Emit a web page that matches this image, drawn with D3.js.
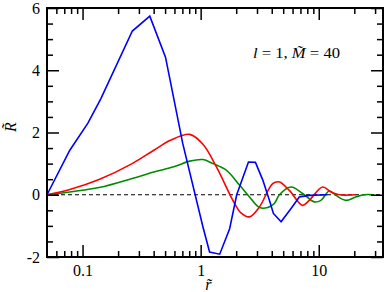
<!DOCTYPE html>
<html>
<head>
<meta charset="utf-8">
<script src="https://cdn.jsdelivr.net/npm/d3@7"></script>
<style>
  body { margin: 0; background: #fff; }
</style>
</head>
<body>
<div id="chart"></div>
<script>
// radial coordinate r~ and amplitude R~
const blueR = [0.05, 0.078, 0.111, 0.143, 0.264, 0.371, 0.504, 0.705, 1.045, 1.19, 1.45, 1.76, 2.02, 2.54, 2.91, 3.36, 3.82, 4.13, 4.8, 5.83, 6.84, 8.3, 11.8];
const blueV = [0, 1.43, 2.30, 3.09, 5.26, 5.74, 4.42, 1.65, -1.03, -1.84, -1.91, -1.09, 0, 1.05, 1.04, 0.47, -0.18, -0.60, -0.87, -0.44, -0.07, -0.02, 0];

const redR = [0.05, 0.078, 0.138, 0.263, 0.401, 0.555, 0.808, 1.046, 1.357, 1.936, 2.206, 2.592, 3.147, 4.075, 4.642, 5.638, 7.3, 8.315, 10.77, 12.68, 14.89, 20.6];
const redV = [0, 0.17, 0.49, 1.0, 1.43, 1.75, 1.94, 1.62, 0.9, -0.28, -0.59, -0.71, -0.39, 0.36, 0.41, 0.14, -0.34, -0.18, 0.25, 0.09, 0, 0];

const greenR = [0.05, 0.138, 0.263, 0.401, 0.592, 0.808, 1.046, 1.27, 1.648, 2.133, 2.592, 3.147, 3.698, 4.211, 4.642, 5.827, 7.3, 9.163, 10.44, 12.27, 13.97, 16.96, 20.6, 24.2, 29.4];
const greenV = [0, 0.23, 0.52, 0.73, 0.9, 1.08, 1.13, 1.0, 0.79, 0.31, -0.07, -0.41, -0.41, -0.28, 0, 0.25, 0.04, -0.23, -0.18, 0.12, -0.02, -0.18, -0.07, 0, 0];

const xMajor = [0.1, 1, 10];
const xMinor = [0.06, 0.07, 0.08, 0.09, 0.2, 0.3, 0.4, 0.5, 0.6, 0.7, 0.8, 0.9, 2, 3, 4, 5, 6, 7, 8, 9, 20, 30];
const yMajor = [-2, 0, 2, 4, 6];
const yMinor = [-1.5, -1, -0.5, 0.5, 1, 1.5, 2.5, 3, 3.5, 4.5, 5, 5.5];

const FONT = "Liberation Serif";

const margin = {top: 8, right: 9, bottom: 35, left: 47},
      width = 392 - margin.left - margin.right,
      height = 292 - margin.top - margin.bottom;

const svg = d3.select("#chart")
  .append("svg")
  .attr("width", 392)
  .attr("height", 292)
  .attr("font-family", FONT)
  .append("g")
  .attr("transform", `translate(${margin.left},${margin.top})`);

const x = d3.scaleLog().domain([0.05, 35]).range([0, width]);
const y = d3.scaleLinear().domain([-2, 6]).range([height, 0]);

// zero line
svg.append("line")
  .attr("x1", 0).attr("x2", width)
  .attr("y1", y(0)).attr("y2", y(0))
  .attr("stroke", "black")
  .attr("stroke-width", 1.2)
  .attr("stroke-dasharray", "4,3");

const series = [
  {r: greenR, v: greenV, color: "#008b00", curve: d3.curveCatmullRom},
  {r: redR, v: redV, color: "#ff0000", curve: d3.curveCatmullRom},
  {r: blueR, v: blueV, color: "#0000ff", curve: d3.curveLinear}
];

series.forEach(s => {
  const pts = s.r.map((r, i) => [r, s.v[i]]);
  svg.append("path")
    .datum(pts)
    .attr("fill", "none")
    .attr("stroke", s.color)
    .attr("stroke-width", 1.6)
    .attr("d", d3.line().curve(s.curve).x(d => x(d[0])).y(d => y(d[1])));
});

// axes: ticks point inward on all four sides
function ax(gen, scale, vals, size, fmt, pad, tr) {
  const g = svg.append("g")
    .attr("transform", tr)
    .call(gen(scale).tickValues(vals).tickSize(size).tickPadding(pad).tickFormat(fmt));
  g.attr("font-family", FONT).attr("font-size", 16);
  g.select(".domain").remove();
  g.selectAll("line").attr("stroke", "black").attr("stroke-width", 1.5);
  g.selectAll("text").attr("fill", "black");
  return g;
}

ax(d3.axisBottom, x, xMajor, -12, d => d3.format("~g")(d), 8, `translate(0,${height})`);
ax(d3.axisBottom, x, xMinor, -6, "", 8, `translate(0,${height})`);
ax(d3.axisTop, x, xMajor, -12, "", 8, "translate(0,0)");
ax(d3.axisTop, x, xMinor, -6, "", 8, "translate(0,0)");
ax(d3.axisLeft, y, yMajor, -12, d => d, 7, "translate(0,0)");
ax(d3.axisLeft, y, yMinor, -6, "", 7, "translate(0,0)");
ax(d3.axisRight, y, yMajor, -12, "", 7, `translate(${width},0)`);
ax(d3.axisRight, y, yMinor, -6, "", 7, `translate(${width},0)`);

// frame
svg.append("rect")
  .attr("width", width).attr("height", height)
  .attr("fill", "none")
  .attr("stroke", "black")
  .attr("stroke-width", 2);

// axis titles
svg.append("text")
  .attr("x", x(1.16))
  .attr("y", height + 33)
  .attr("text-anchor", "middle")
  .attr("font-size", 16)
  .attr("font-style", "italic")
  .text("r\u0303");

svg.append("text")
  .attr("transform", `translate(${16 - margin.left},${127 - margin.top}) rotate(-90)`)
  .attr("text-anchor", "middle")
  .attr("font-size", 16)
  .attr("font-style", "italic")
  .text("R\u0303");

// annotation
const note = svg.append("text")
  .attr("x", 253 - margin.left)
  .attr("y", 58 - margin.top)
  .attr("textLength", 87)
  .attr("lengthAdjust", "spacingAndGlyphs")
  .attr("font-size", 14);
note.append("tspan").attr("font-style", "italic").text("l");
note.append("tspan").text(" = 1, ");
note.append("tspan").attr("font-style", "italic").text("M\u0303");
note.append("tspan").text(" = 40");
</script>
</body>
</html>
